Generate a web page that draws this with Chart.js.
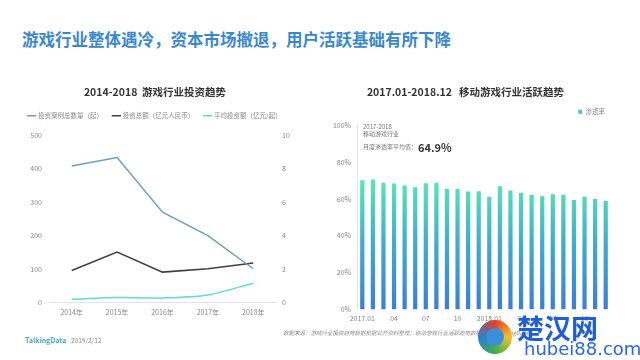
<!DOCTYPE html>
<html>
<head>
<meta charset="utf-8">
<script src="https://cdn.jsdelivr.net/npm/chart.js@4/dist/chart.umd.min.js"></script>
<style>
  html, body { margin: 0; padding: 0; background: #fff; }
  body { width: 640px; height: 360px; position: relative; overflow: hidden;
         font-family: "Noto Sans CJK SC", "Noto Sans", sans-serif; }
  .abs { position: absolute; white-space: nowrap; }
  #title { left: 22px; top: 28px; font-size: 16.5px; font-weight: bold; color: #3b87cc; line-height: 22px; }
  #leftBox { left: 0; top: 80px; width: 310px; height: 250px; }
  #rightBox { left: 320px; top: 80px; width: 320px; height: 250px; }
  .note { font-size: 6px; color: #777; line-height: 8px; }
  #avg { font-size: 11px; font-weight: bold; color: #333; }
  #brand { left: 25px; top: 335px; font-size: 7px; font-weight: bold; color: #4aa8c0; }
  #date { left: 71px; top: 335px; font-size: 6.5px; color: #888; }
  #source { left: 283px; top: 329px; font-size: 5.5px; color: #888; font-style: italic; }
  #wm1 { left: 517px; top: 312px; font-size: 27px; font-weight: bold; color: #1f5fd6; line-height: 32px; }
  #wm2 { left: 524px; top: 338px; font-size: 18px; color: #2a66d8; line-height: 22px; font-family: "DejaVu Sans", sans-serif; }
  #logo { left: 478px; top: 320px; width: 34px; height: 34px; border-radius: 50%;
          background: conic-gradient(#e0402a, #f2c12e, #3fae49, #2a7fd6, #e0402a); }
  #logo::after { content: ""; position: absolute; left: 8px; top: 8px; width: 18px; height: 18px;
          border-radius: 50%; background: #3b8fd8; }
</style>
</head>
<body>
<div id="title" class="abs">游戏行业整体遇冷，资本市场撤退，用户活跃基础有所下降</div>

<div id="leftBox" class="abs"><canvas id="investChart"></canvas></div>
<div id="rightBox" class="abs"><canvas id="activeChart"></canvas></div>

<div class="abs note" style="left:363px; top:123px;">2017-2018</div>
<div class="abs note" style="left:363px; top:130px;">移动游戏行业</div>
<div class="abs note" style="left:363px; top:143px;">月度渗透率平均值：</div>
<div id="avg" class="abs" style="left:418px; top:139px;">64.9%</div>

<div id="brand" class="abs">TalkingData</div>
<div id="date" class="abs">2019/2/12</div>
<div id="source" class="abs">数据来源：游戏行业投资趋势数据根据公开资料整理；移动游戏行业活跃趋势数据来源于TalkingData</div>
<div id="logo" class="abs"></div>
<div id="wm1" class="abs">楚汉网</div>
<div id="wm2" class="abs">hubei88.com</div>

<script>
// left chart: investment trend 2014-2018
const years = ['2014年', '2015年', '2016年', '2017年', '2018年'];
const dealCount = [408, 433, 270, 200, 101];      // 投资案例总数量（起）
const totalAmount = [96, 151, 91, 101, 118];      // 投资总额（亿元人民币）
const avgAmount = [0.2, 0.3, 0.28, 0.46, 1.16];   // 平均投资额（亿元/起）

// right chart: monthly penetration 2017.01-2018.12
const months = ['2017.01', '02', '03', '04', '05', '06', '07', '08', '09', '10', '11', '12',
                '2018.01', '02', '03', '04', '05', '06', '07', '08', '09', '10', '11', '12'];
const penetration = [70.1, 70.5, 68.8, 68.3, 67.2, 66.3, 68.5, 68.7, 65.4, 65.4, 64.0, 64.1,
                     61.2, 66.8, 64.5, 63.4, 62.1, 61.4, 62.5, 62.3, 59.4, 61.2, 59.9, 58.9];

const tickFont = { size: 7, family: '"Noto Sans CJK SC", sans-serif' };
const tickColor = '#888';
const titleFont = { size: 10.5, weight: 'bold', family: '"Noto Sans CJK SC", sans-serif' };

// adds a little room under the legend
const legendGap = {
    id: 'legendGap',
    beforeInit(chart) {
        const fit = chart.legend.fit;
        const extra = chart.options.plugins.legendGap.extra;
        chart.legend.fit = function () {
            fit.bind(chart.legend)();
            this.height += extra;
        };
    }
};

new Chart(document.getElementById('investChart'), {
    type: 'line',
    data: {
        labels: years,
        datasets: [
            {
                label: '投资案例总数量（起）',
                data: dealCount,
                borderColor: '#6e9fb8',
                backgroundColor: '#6e9fb8',
                borderWidth: 1.5,
                pointRadius: 0,
                yAxisID: 'y'
            },
            {
                label: '投资总额（亿元人民币）',
                data: totalAmount,
                borderColor: '#3c3f44',
                backgroundColor: '#3c3f44',
                borderWidth: 1.5,
                pointRadius: 0,
                yAxisID: 'y'
            },
            {
                label: '平均投资额（亿元/起）',
                data: avgAmount,
                borderColor: '#62dccb',
                backgroundColor: '#62dccb',
                borderWidth: 1.5,
                pointRadius: 0,
                tension: 0.3,
                yAxisID: 'y1'
            }
        ]
    },
    options: {
        responsive: true,
        maintainAspectRatio: false,
        animation: false,
        layout: { padding: { left: 0, right: 0, top: 0, bottom: 7 } },
        plugins: {
            title: {
                display: true,
                text: '2014-2018  游戏行业投资趋势',
                color: '#333',
                font: titleFont,
                padding: { top: 6, bottom: 4 }
            },
            legend: {
                position: 'top',
                labels: {
                    usePointStyle: true,
                    pointStyle: 'line',
                    boxWidth: 12,
                    color: '#888',
                    font: { size: 6.5, family: '"Noto Sans CJK SC", sans-serif' },
                    padding: 10
                }
            },
            legendGap: { extra: 6 },
            tooltip: { enabled: false }
        },
        scales: {
            x: {
                offset: true,
                grid: { display: false, drawTicks: false },
                border: { display: true, color: '#e3e3e3' },
                ticks: { color: tickColor, font: tickFont, padding: 6, maxRotation: 0 }
            },
            y: {
                position: 'left',
                min: 0,
                max: 500,
                afterFit(scale) { scale.width = 49; },
                grid: { display: false, drawTicks: false },
                border: { display: false },
                ticks: { stepSize: 100, color: tickColor, font: tickFont, padding: 7 }
            },
            y1: {
                position: 'right',
                min: 0,
                max: 10,
                afterFit(scale) { scale.width = 34; },
                grid: { display: false, drawTicks: false },
                border: { display: false },
                ticks: { stepSize: 2, color: tickColor, font: tickFont, padding: 6 }
            }
        }
    },
    plugins: [legendGap]
});

new Chart(document.getElementById('activeChart'), {
    type: 'bar',
    data: {
        labels: months,
        datasets: [{
            label: '渗透率',
            data: penetration,
            barPercentage: 0.4,
            categoryPercentage: 1,
            backgroundColor(context) {
                const chart = context.chart;
                if (!chart.chartArea) return '#4cc9b8';
                const y = chart.scales.y;
                const g = chart.ctx.createLinearGradient(0, y.getPixelForValue(0), 0, y.getPixelForValue(68));
                g.addColorStop(0, '#3b7fd4');
                g.addColorStop(0.5, '#42a9cc');
                g.addColorStop(1, '#58e2b6');
                return g;
            }
        }]
    },
    options: {
        responsive: true,
        maintainAspectRatio: false,
        animation: false,
        layout: { padding: { left: 0, right: 29, top: 0, bottom: 2 } },
        plugins: {
            title: {
                display: true,
                text: '2017.01-2018.12   移动游戏行业活跃趋势',
                color: '#333',
                font: titleFont,
                padding: { top: 6, bottom: 4 }
            },
            legend: {
                position: 'top',
                align: 'end',
                labels: {
                    boxWidth: 4,
                    boxHeight: 4,
                    color: '#888',
                    font: { size: 6.5, family: '"Noto Sans CJK SC", sans-serif' },
                    padding: 6,
                    generateLabels() {
                        return [{ text: '渗透率', fillStyle: '#4cc9b8', strokeStyle: '#4cc9b8', lineWidth: 0, fontColor: '#888' }];
                    }
                }
            },
            tooltip: { enabled: false }
        },
        scales: {
            x: {
                grid: { display: false, drawTicks: false },
                border: { display: false },
                ticks: {
                    autoSkip: false,
                    maxRotation: 0,
                    color: tickColor,
                    font: tickFont,
                    padding: 5,
                    callback(value, index) {
                        return index % 3 === 0 ? months[index] : '';
                    }
                }
            },
            y: {
                min: 0,
                max: 100,
                afterFit(scale) { scale.width = 37; },
                grid: { display: false, drawTicks: false },
                border: { display: true, color: '#e6e6e6' },
                ticks: {
                    stepSize: 20,
                    color: tickColor,
                    font: tickFont,
                    padding: 6,
                    callback(value) { return value + '%'; }
                }
            }
        }
    }
});
</script>
</body>
</html>
